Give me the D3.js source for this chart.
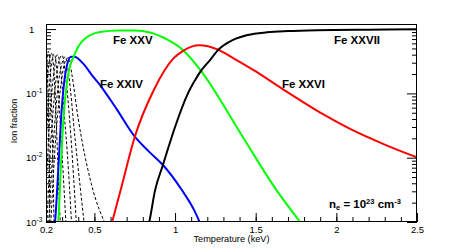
<!DOCTYPE html>
<html>
<head>
<meta charset="utf-8">
<script src="https://cdn.jsdelivr.net/npm/d3@7"></script>
<style>
  body { margin: 0; background: #fff; }
  text { font-family: "Liberation Sans", Arial, sans-serif; }
</style>
</head>
<body>
<div id="container"></div>
<script>
/* CONSTANTS AND GLOBALS */
const width = 463,
  height = 248,
  margin = { top: 24, bottom: 26, left: 46, right: 46 }

/* DATA : [temperature keV, ion fraction] */
const feXXIV = [[0.252,0.0008],[0.256,0.001],[0.276,0.0064],[0.297,0.055],[0.307,0.11],[0.328,0.26],[0.355,0.37],[0.375,0.37],
  [0.431,0.29],[0.493,0.18],[0.535,0.135],[0.6,0.079],[0.64,0.056],[0.752,0.021],[0.845,0.012],[0.925,0.0077],[1.04,0.0032],[1.12,0.0015],[1.16,0.0009]]
const feXXV = [[0.27,0.0008],[0.276,0.001],[0.291,0.0065],[0.312,0.055],[0.322,0.1],[0.338,0.2],[0.375,0.39],[0.43,0.67],[0.535,0.9],
  [0.65,0.95],[0.75,0.95],[0.85,0.88],[0.95,0.69],[1.05,0.47],[1.155,0.235],[1.42,0.021],[1.63,0.0031],[1.79,0.0009]]
const feXXVI = [[0.6,0.0008],[0.61,0.001],[0.665,0.0033],[0.75,0.021],[0.87,0.115],[0.99,0.35],[1.05,0.46],[1.15,0.56],[1.266,0.48],
  [1.36,0.355],[1.5,0.22],[1.66,0.12],[1.92,0.047],[2.085,0.028],[2.3,0.016],[2.5,0.0101]]
const feXXVII = [[0.83,0.0008],[0.84,0.001],[0.876,0.0031],[0.925,0.0077],[1.0,0.03],[1.08,0.1],[1.124,0.16],[1.155,0.214],[1.217,0.33],
  [1.266,0.47],[1.36,0.68],[1.45,0.81],[1.57,0.89],[1.7,0.93],[1.88,0.96],[2.2,0.98],[2.5,0.99]]

// lower charge states (dashed)
const lowIons = [
  [[0.17,0.2],[0.20,0.48],[0.21,0.2],[0.215,0.05],[0.22,0.008],[0.224,0.0008]],
  [[0.18,0.05],[0.20,0.25],[0.215,0.45],[0.228,0.2],[0.238,0.03],[0.25,0.0008]],
  [[0.19,0.02],[0.20,0.06],[0.215,0.25],[0.235,0.42],[0.25,0.2],[0.265,0.03],[0.28,0.003],[0.29,0.0008]],
  [[0.20,0.015],[0.22,0.12],[0.25,0.41],[0.27,0.2],[0.29,0.03],[0.31,0.004],[0.325,0.0008]],
  [[0.20,0.003],[0.22,0.03],[0.25,0.22],[0.27,0.40],[0.29,0.25],[0.31,0.06],[0.34,0.006],[0.36,0.0008]],
  [[0.205,0.0008],[0.22,0.006],[0.25,0.08],[0.28,0.32],[0.30,0.39],[0.32,0.2],[0.35,0.03],[0.39,0.0008]],
  [[0.215,0.0008],[0.24,0.01],[0.27,0.1],[0.30,0.3],[0.32,0.37],[0.34,0.2],[0.38,0.02],[0.44,0.0008]],
  [[0.228,0.0008],[0.26,0.02],[0.29,0.12],[0.32,0.32],[0.34,0.36],[0.36,0.2],[0.40,0.04],[0.48,0.004],[0.58,0.0008]]
]

const series = [
  { name: "Fe XXIV", values: feXXIV, color: "#0000ff", label: [100, 87.5] },
  { name: "Fe XXV", values: feXXV, color: "#00ff00", label: [113, 43.5] },
  { name: "Fe XXVI", values: feXXVI, color: "#ff0000", label: [282, 88.3] },
  { name: "Fe XXVII", values: feXXVII, color: "#000000", label: [334, 43.5] }
]

const xLabels = [0.2, 0.5, 1, 1.5, 2, 2.5]
const xMinor = d3.range(3, 25).map(d => d / 10)
const yMajor = [1e-3, 1e-2, 1e-1, 1]
const yMinor = [1e-3, 1e-2, 1e-1].flatMap(p => d3.range(2, 10).map(k => k * p))

/* SCALES */
const xScale = d3.scaleLinear()
  .domain([0.2, 2.5])
  .range([margin.left, width - margin.right])

const yScale = d3.scaleLog()
  .domain([1e-3, 1.2])
  .range([height - margin.bottom, margin.top])

/* SVG */
const svg = d3.select("#container")
  .append("svg")
  .attr("width", width)
  .attr("height", height)

svg.append("clipPath").attr("id", "plot")
  .append("rect")
  .attr("x", margin.left).attr("y", margin.top)
  .attr("width", width - margin.left - margin.right)
  .attr("height", height - margin.top - margin.bottom)

const lineGen = d3.line()
  .x(d => xScale(d[0]))
  .y(d => yScale(d[1]))
  .curve(d3.curveMonotoneX)

const curves = svg.append("g").attr("clip-path", "url(#plot)")

curves.selectAll(".low")
  .data(lowIons)
  .join("path")
  .attr("class", "low")
  .attr("fill", "none")
  .attr("stroke", "#000")
  .attr("stroke-width", 1)
  .attr("stroke-dasharray", "3,2")
  .attr("d", d => lineGen(d))

curves.selectAll(".ion")
  .data(series)
  .join("path")
  .attr("class", "ion")
  .attr("fill", "none")
  .attr("stroke", d => d.color)
  .attr("stroke-width", 2)
  .attr("d", d => lineGen(d.values))

/* AXES (ticks inside the frame) */
const bottomY = height - margin.bottom
const styleAxis = g => {
  g.select(".domain").remove()
  g.selectAll("line").attr("stroke", "#000")
}

svg.append("g")
  .attr("transform", `translate(0, ${bottomY})`)
  .call(d3.axisBottom(xScale).tickValues(xMinor).tickSize(-5).tickFormat(""))
  .call(styleAxis)

svg.append("g")
  .attr("transform", `translate(0, ${bottomY})`)
  .call(d3.axisBottom(xScale).tickValues(xLabels).tickSize(-9).tickFormat(d => d))
  .call(styleAxis)
  .selectAll("text")
  .attr("font-size", "9.5px")
  .attr("fill", "#000")
  .attr("y", 10.5)
  .attr("dy", 0)

for (const side of ["left", "right"]) {
  const x0 = side == "left" ? margin.left : width - margin.right
  const axisFn = side == "left" ? d3.axisLeft : d3.axisRight
  svg.append("g")
    .attr("transform", `translate(${x0}, 0)`)
    .call(axisFn(yScale).tickValues(yMinor).tickSize(-5).tickFormat(""))
    .call(styleAxis)
  svg.append("g")
    .attr("transform", `translate(${x0}, 0)`)
    .call(axisFn(yScale).tickValues(yMajor).tickSize(-10).tickFormat(""))
    .call(styleAxis)
}

// y tick labels: 1, 10^-1 ...
svg.append("g")
  .selectAll("text")
  .data(yMajor)
  .join("text")
  .attr("x", d => d == 1 ? 29 : 26)
  .attr("y", d => yScale(d) + 3.5)
  .attr("font-size", "9.5px")
  .each(function (d) {
    const t = d3.select(this)
    if (d == 1) { t.text("1"); return }
    t.append("tspan").text("10")
    t.append("tspan").attr("dy", -4).attr("font-size", "6.5px").text("-" + Math.round(-Math.log10(d)))
  })

/* FRAME */
svg.append("rect")
  .attr("x", margin.left + 0.5).attr("y", margin.top + 0.5)
  .attr("width", width - margin.left - margin.right - 1)
  .attr("height", height - margin.top - margin.bottom - 1)
  .attr("fill", "none")
  .attr("stroke", "#000")

/* TITLES */
svg.append("text")
  .attr("x", (margin.left + width - margin.right) / 2)
  .attr("y", 242)
  .attr("text-anchor", "middle")
  .attr("font-size", "9.2px")
  .text("Temperature (keV)")

svg.append("text")
  .attr("transform", "rotate(-90)")
  .attr("x", -121)
  .attr("y", 16.5)
  .attr("text-anchor", "middle")
  .attr("font-size", "9px")
  .text("Ion fraction")

/* LABELS */
svg.append("g")
  .selectAll("text")
  .data(series)
  .join("text")
  .attr("x", d => d.label[0])
  .attr("y", d => d.label[1])
  .attr("font-size", "11.5px")
  .attr("font-weight", "bold")
  .text(d => d.name)

const ne = svg.append("text")
  .attr("x", 329)
  .attr("y", 207.5)
  .attr("font-size", "11.5px")
  .attr("font-weight", "bold")
ne.append("tspan").text("n")
ne.append("tspan").attr("dy", 2).attr("font-size", "7.5px").text("e")
ne.append("tspan").attr("dy", -2).text(" = 10")
ne.append("tspan").attr("dy", -4).attr("font-size", "7.5px").text("23")
ne.append("tspan").attr("dy", 4).text(" cm")
ne.append("tspan").attr("dy", -4).attr("font-size", "7.5px").text("-3")
</script>
</body>
</html>
